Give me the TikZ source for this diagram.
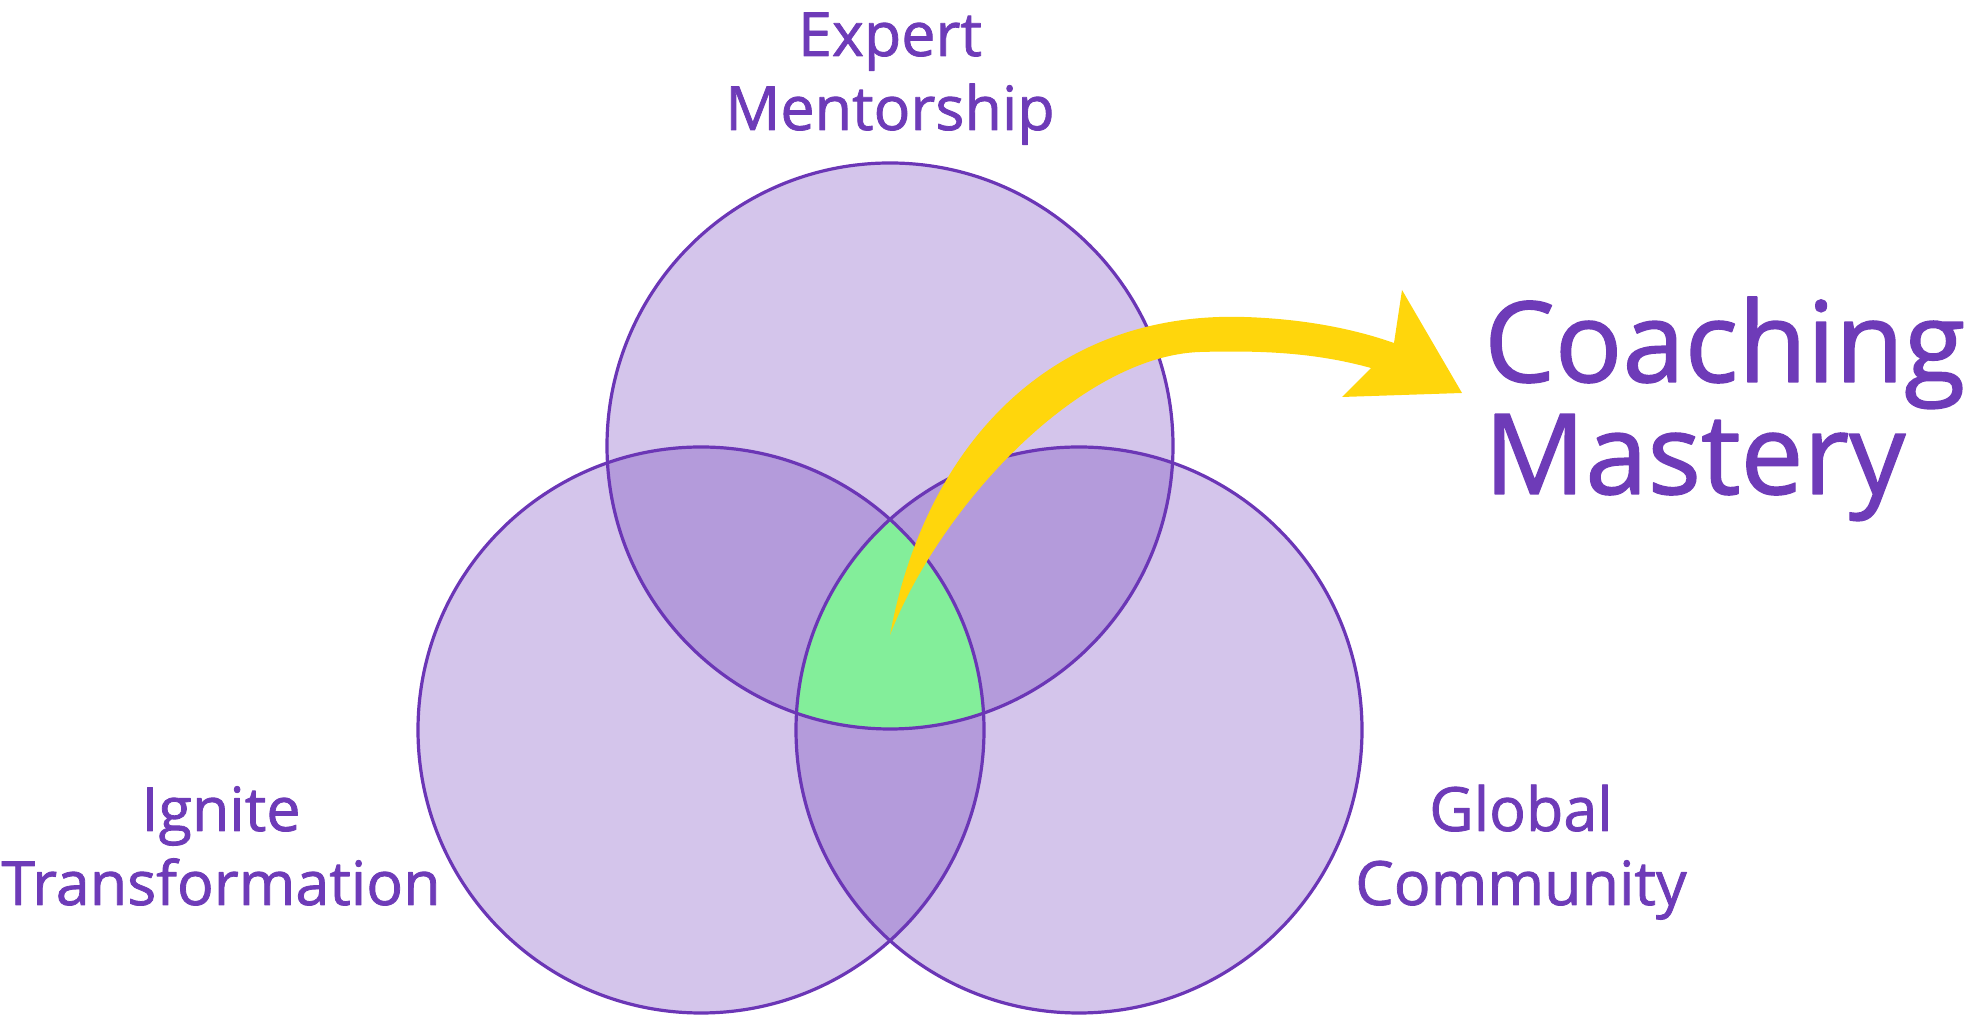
\documentclass[tikz,border=0pt]{standalone}
\usepackage{fontspec}
\setmainfont{Open Sans}
\newfontfamily\medfont{Open Sans}[RawFeature={embolden=1.3}]
\definecolor{lav}{HTML}{D4C5EB}
\definecolor{lavd}{HTML}{B49BDB}
\definecolor{mint}{HTML}{83EE9A}
\definecolor{rim}{HTML}{6B36B6}
\definecolor{txt}{HTML}{6E3BB8}
\definecolor{gold}{HTML}{FFD60C}
\begin{document}
\begin{tikzpicture}[x=1pt,y=1pt,line join=round,line cap=round,
	ring/.style={draw=rim,line width=3.2pt},
	lbl/.style={text=txt,font=\medfont\fontsize{61}{74}\selectfont,align=center,anchor=base,inner sep=0pt},
	big/.style={text=txt,font=\medfont\fontsize{112}{112}\selectfont,align=left,anchor=base west,inner sep=0pt}]
		\useasboundingbox (0,0) rectangle (1976,1016);
		\def\rad{283}
		\coordinate (T) at (890,570);
		\coordinate (L) at (701,286);
		\coordinate (R) at (1079,286);
		\foreach \c in {T,L,R}
		\fill[lav] (\c) circle (\rad);
		% overlaps of two circles
		\begin{scope}
			\clip (T) circle (\rad);
			\fill[lavd] (L) circle (\rad);
			\fill[lavd] (R) circle (\rad);
		\end{scope}
		\begin{scope}
			\clip (L) circle (\rad);
			\fill[lavd] (R) circle (\rad);
		\end{scope}
		% centre of all three
		\begin{scope}
			\clip (T) circle (\rad);
			\clip (L) circle (\rad);
			\fill[mint] (R) circle (\rad);
		\end{scope}
		\foreach \c in {T,L,R}
		\draw[ring] (\c) circle (\rad);
		% yellow arrow
		\fill[gold] (890,381) .. controls (925,570) and (1050,705) .. (1244,699)
			.. controls (1310,697) and (1360,685) .. (1394,673)
			-- (1402,726) -- (1462,623) -- (1342,619) -- (1371,648)
			.. controls (1320,662) and (1270,666) .. (1200,664)
			.. controls (1080,660) and (940,510) .. cycle;
		\node[lbl] (expert) at (890,886) {Expert\\Mentorship};
		\node[lbl] (ignite) at (221,111) {Ignite\\Transformation};
		\node[lbl] (global) at (1521,111) {Global\\Community};
		\node[big] (coach) at (1484,522) {Coaching\\Mastery};
\end{tikzpicture}
\end{document}
